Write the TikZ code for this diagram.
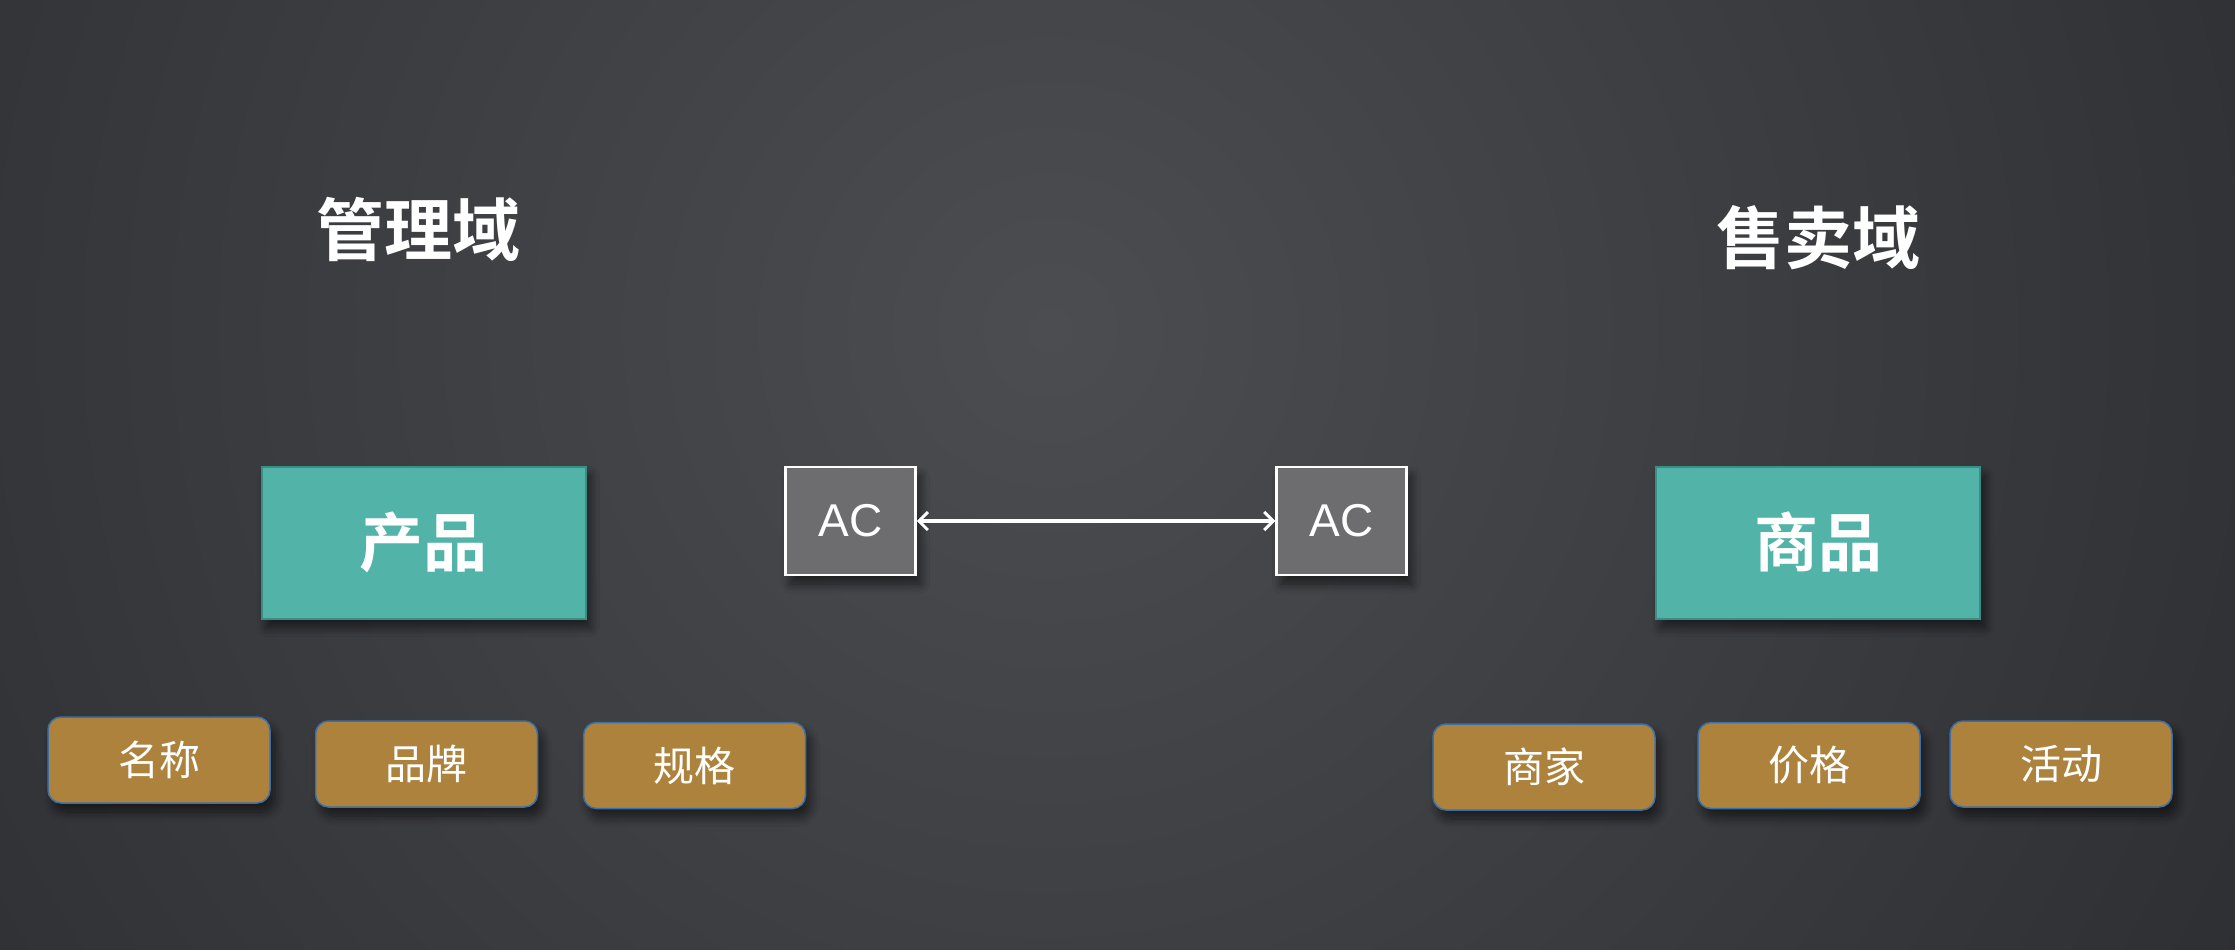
\documentclass[tikz,border=0pt]{standalone}
\usepackage{fontspec}
\setmainfont{Liberation Sans}
\newfontfamily\cjk{Noto Sans CJK SC}
\newfontfamily\cjkbold{Noto Sans CJK SC Bold}
\usetikzlibrary{arrows.meta,shadows.blur}
\definecolor{bgout}{HTML}{2E2F33}
\definecolor{bgin}{HTML}{4B4D51}
\definecolor{tealfill}{HTML}{52B3A8}
\definecolor{tealedge}{HTML}{3A8F85}
\definecolor{brownfill}{HTML}{AD823D}
\definecolor{brownedge}{HTML}{3C6FA8}
\definecolor{acfill}{HTML}{6D6C6F}
\tikzset{
  x=1pt, y=-1pt,
  shad/.style={blur shadow={shadow xshift=5pt, shadow yshift=-9pt, shadow blur steps=10, shadow opacity=55, shadow blur radius=9pt}},
  mainbox/.style={shad, rectangle, fill=tealfill, draw=tealedge, line width=2pt, minimum width=324pt, minimum height=152pt, inner sep=0pt, text=white, font=\cjkbold\fontsize{64}{70}\selectfont},
  attrbox/.style={shad, rectangle, rounded corners=13pt, fill=brownfill, draw=brownedge, line width=1.5pt, minimum width=222pt, minimum height=86pt, inner sep=0pt, text=white, font=\cjk\fontsize{41}{46}\selectfont},
  acbox/.style={shad, rectangle, fill=acfill, draw=white, line width=2.5pt, minimum width=130pt, minimum height=108pt, inner sep=0pt, text=white, font=\fontsize{46}{50}\selectfont},
  titletext/.style={text=white, font=\cjkbold\fontsize{68}{74}\selectfont, inner sep=0pt},
  link/.style={draw=white, line width=3.5pt, {Straight Barb[length=9pt,width=18pt,line width=3pt]}-{Straight Barb[length=9pt,width=18pt,line width=3pt]}}
}
\begin{document}
\begin{tikzpicture}
\useasboundingbox (0,0) rectangle (2235,950);
\fill[bgout] (0,0) rectangle (2235,950);
\begin{scope}
\clip (0,0) rectangle (2235,950);
\shade[inner color=bgin, outer color=bgout] (1050,330) circle (1350);
\end{scope}
% titles
\node[titletext] (t1) at (418,229) {管理域};
\node[titletext] (t2) at (1818,238) {售卖域};
% main boxes
\node[mainbox] (prod) at (423.5,542.5) {产品};
\node[mainbox] (goods) at (1818,542.5) {商品};
% AC boxes
\node[acbox] (ac1) at (850.5,521) {AC};
\node[acbox] (ac2) at (1341.5,521) {AC};
\draw[link] (ac1.east) -- (ac2.west);
% attribute boxes
\node[attrbox] (name) at (159,760) {名称};
\node[attrbox] (brand) at (426.5,764) {品牌};
\node[attrbox] (spec) at (694.5,765.5) {规格};
\node[attrbox] (seller) at (1544,767) {商家};
\node[attrbox] (price) at (1809,765.5) {价格};
\node[attrbox] (promo) at (2061,764) {活动};
\end{tikzpicture}
\end{document}
